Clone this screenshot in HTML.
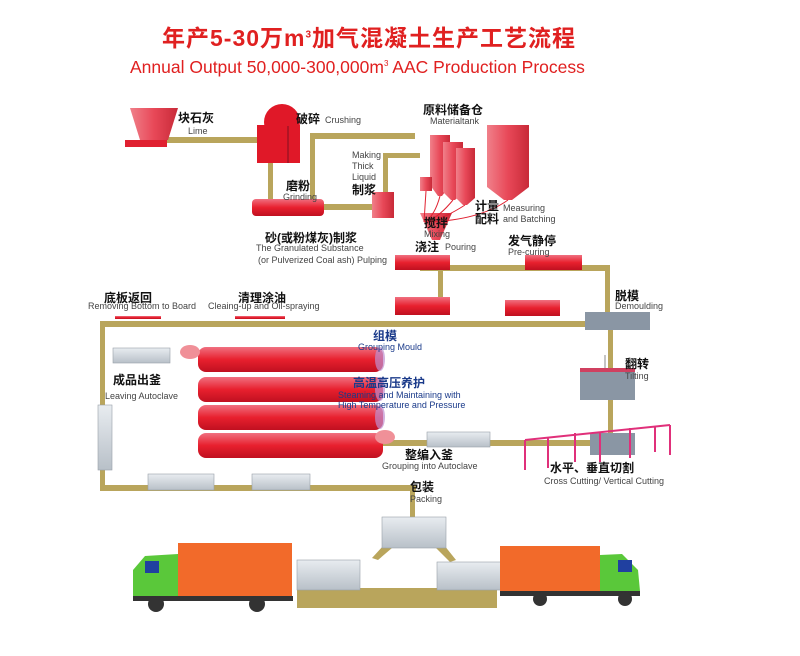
<!DOCTYPE html>
<html><head><meta charset="utf-8"><style>
body{margin:0;background:#fff}
#w{position:relative;width:800px;height:656px;overflow:hidden;font-family:"Liberation Sans","Noto Sans CJK SC",sans-serif}
.t{position:absolute;white-space:nowrap;line-height:1}
.c{font-weight:bold;font-size:12px;color:#111}
.e{font-size:9px;color:#444}
.b{color:#1a3a8a}
</style></head><body><div id="w">
<svg width="800" height="656" style="position:absolute;left:0;top:0">
<defs>
<linearGradient id="r" x1="0" y1="0" x2="0" y2="1"><stop offset="0" stop-color="#f07080"/><stop offset=".5" stop-color="#e8202e"/><stop offset="1" stop-color="#c01020"/></linearGradient>
<linearGradient id="rv" x1="0" y1="0" x2="1" y2="0"><stop offset="0" stop-color="#f0808a"/><stop offset=".5" stop-color="#e84858"/><stop offset="1" stop-color="#c82a38"/></linearGradient>
<linearGradient id="g" x1="0" y1="0" x2="0" y2="1"><stop offset="0" stop-color="#e8ecf0"/><stop offset="1" stop-color="#b8c0c8"/></linearGradient>
</defs>
<g fill="#b9a55c">
<rect x="165" y="137" width="100" height="6"/>
<rect x="268" y="160" width="5" height="42"/>
<rect x="310" y="133" width="105" height="6"/>
<rect x="310" y="133" width="5" height="75"/>
<rect x="320" y="204" width="55" height="6"/>
<rect x="383" y="153" width="37" height="5"/>
<rect x="383" y="153" width="5" height="57"/>
<rect x="420" y="265" width="190" height="6"/>
<rect x="438" y="268" width="5" height="32"/>
<rect x="605" y="265" width="5" height="55"/>
<rect x="100" y="321" width="490" height="6"/>
<rect x="100" y="321" width="5" height="170"/>
<rect x="100" y="485" width="316" height="6"/>
<rect x="608" y="330" width="5" height="115"/>
<rect x="380" y="440" width="232" height="6"/>
<rect x="410" y="488" width="5" height="30"/>
<rect x="297" y="588" width="200" height="20"/>
<polygon points="384,545 392,548 378,560 372,558"/>
<polygon points="444,545 436,548 450,562 456,560"/>
</g>
<polygon points="130,108 178,108 168,140 140,140" fill="url(#rv)"/>
<rect x="125" y="140" width="42" height="7" fill="#e02030"/>
<circle cx="282" cy="122" r="18" fill="#e01828"/>
<rect x="257" y="125" width="43" height="38" fill="#e01828"/>
<line x1="288" y1="126" x2="288" y2="163" stroke="#801020"/>
<rect x="252" y="199" width="72" height="17" rx="4" fill="url(#r)"/>
<rect x="372" y="192" width="22" height="26" fill="url(#rv)"/>
<g fill="url(#rv)">
<rect x="430" y="135" width="20" height="50"/><polygon points="430,185 450,185 442,196 438,196"/>
<rect x="443" y="142" width="20" height="50"/><polygon points="443,192 463,192 455,200 451,200"/>
<rect x="456" y="148" width="19" height="50"/><polygon points="456,198 475,198 467,205 463,205"/>
<rect x="487" y="125" width="42" height="62"/><polygon points="487,187 529,187 512,200 504,200"/>
<rect x="420" y="177" width="12" height="14"/>
<polygon points="420,213 452,213 440,240 432,240"/>
</g>
<g stroke="#e02030" fill="none" stroke-width="1">
<path d="M440,196 Q435,215 425,222"/><path d="M453,200 Q440,216 427,222"/><path d="M465,205 Q445,218 428,222"/><path d="M508,200 Q480,220 428,222"/><path d="M426,191 L424,222"/>
</g>
<g fill="url(#r)">
<rect x="395" y="255" width="55" height="15"/>
<rect x="525" y="255" width="57" height="15"/>
<rect x="395" y="297" width="55" height="18"/>
<rect x="505" y="300" width="55" height="16"/>
<rect x="115" y="316" width="46" height="3"/>
<rect x="235" y="316" width="50" height="3"/>
</g>
<g fill="url(#r)">
<rect x="198" y="347" width="185" height="25" rx="8"/>
<rect x="198" y="377" width="185" height="25" rx="8"/>
<rect x="198" y="405" width="185" height="25" rx="8"/>
<rect x="198" y="433" width="185" height="25" rx="8"/>
</g>
<g fill="#f09098"><ellipse cx="190" cy="352" rx="10" ry="7"/><ellipse cx="385" cy="437" rx="10" ry="7"/></g>
<g fill="#c090d0" opacity=".7"><ellipse cx="380" cy="359" rx="5" ry="12"/><ellipse cx="380" cy="389" rx="5" ry="12"/><ellipse cx="380" cy="417" rx="5" ry="12"/></g>
<g fill="url(#g)" stroke="#98a0a8" stroke-width=".6">
<rect x="113" y="348" width="57" height="15"/>
<rect x="98" y="405" width="14" height="65"/>
<rect x="148" y="474" width="66" height="16"/>
<rect x="252" y="474" width="58" height="16"/>
<rect x="427" y="432" width="63" height="15"/>
<rect x="382" y="517" width="64" height="31"/>
<rect x="297" y="560" width="63" height="30"/>
<rect x="437" y="562" width="64" height="28"/>
</g>
<g fill="#8a96a4">
<rect x="585" y="312" width="65" height="18"/>
<rect x="580" y="372" width="55" height="28"/>
<rect x="590" y="433" width="45" height="22"/>
</g>
<line x1="605" y1="355" x2="605" y2="372" stroke="#888"/>
<rect x="580" y="368" width="55" height="4" fill="#d04060"/>
<g stroke="#e0307a" stroke-width="2" fill="none">
<path d="M525,440 L670,425 M525,440 L525,470 M575,433 L575,462 M630,428 L630,458 M670,425 L670,455 M548,438 L548,468 M600,432 L600,462 M655,426 L655,452"/>
</g>
<rect x="178" y="543" width="114" height="53" fill="#f26a2a"/>
<path d="M133,596 L133,570 L145,556 L178,554 L178,596 Z" fill="#5ac83a"/>
<rect x="145" y="561" width="14" height="12" fill="#2040a0"/>
<rect x="133" y="596" width="160" height="5" fill="#333"/>
<circle cx="156" cy="604" r="8" fill="#333"/><circle cx="257" cy="604" r="8" fill="#333"/>
<rect x="500" y="546" width="100" height="45" fill="#f26a2a"/>
<path d="M600,591 L600,555 L622,554 L638,570 L640,591 Z" fill="#5ac83a"/>
<rect x="618" y="560" width="14" height="12" fill="#2040a0"/>
<rect x="500" y="591" width="140" height="5" fill="#333"/>
<circle cx="540" cy="599" r="7" fill="#333"/><circle cx="625" cy="599" r="7" fill="#333"/>
</svg>
<div class="t" style="left:162px;top:27px;font-size:23px;font-weight:bold;color:#e02020;letter-spacing:1px">年产5-30万m<sup style="font-size:10px">3</sup>加气混凝土生产工艺流程</div>
<div class="t" style="left:130px;top:59px;font-size:17.5px;color:#e02020">Annual Output 50,000-300,000m<sup style="font-size:8px">3</sup> AAC Production Process</div>
<div class="t c" style="left:178px;top:112px">块石灰</div><div class="t e" style="left:188px;top:127px">Lime</div>
<div class="t c" style="left:296px;top:113px">破碎</div><div class="t e" style="left:325px;top:116px">Crushing</div>
<div class="t c" style="left:286px;top:180px">磨粉</div><div class="t e" style="left:283px;top:193px">Grinding</div>
<div class="t e" style="left:352px;top:150px;line-height:11px">Making<br>Thick<br>Liquid</div>
<div class="t c" style="left:352px;top:184px">制浆</div>
<div class="t c" style="left:265px;top:232px">砂(或粉煤灰)制浆</div>
<div class="t e" style="left:256px;top:244px">The Granulated Substance</div>
<div class="t e" style="left:258px;top:256px">(or Pulverized Coal ash) Pulping</div>
<div class="t c" style="left:423px;top:104px">原料储备仓</div><div class="t e" style="left:430px;top:117px">Materialtank</div>
<div class="t c" style="left:475px;top:200px;line-height:13px">计量<br>配料</div>
<div class="t e" style="left:503px;top:203px;line-height:11px">Measuring<br>and Batching</div>
<div class="t c" style="left:424px;top:217px">搅拌</div><div class="t e" style="left:424px;top:230px">Mixing</div>
<div class="t c" style="left:415px;top:241px">浇注</div><div class="t e" style="left:445px;top:243px">Pouring</div>
<div class="t c" style="left:508px;top:235px">发气静停</div><div class="t e" style="left:508px;top:248px">Pre-curing</div>
<div class="t c" style="left:615px;top:290px">脱模</div><div class="t e" style="left:615px;top:302px">Demoulding</div>
<div class="t c" style="left:104px;top:292px">底板返回</div><div class="t e" style="left:88px;top:302px">Removing Bottom to Board</div>
<div class="t c" style="left:238px;top:292px">清理涂油</div><div class="t e" style="left:208px;top:302px">Cleaing-up and Oil-spraying</div>
<div class="t c b" style="left:373px;top:330px">组模</div><div class="t e b" style="left:358px;top:343px">Grouping Mould</div>
<div class="t c" style="left:113px;top:374px">成品出釜</div><div class="t e" style="left:105px;top:392px">Leaving Autoclave</div>
<div class="t c b" style="left:353px;top:377px">高温高压养护</div>
<div class="t e b" style="left:338px;top:390px;line-height:10px">Steaming and Maintaining with<br>High Temperature and Pressure</div>
<div class="t c" style="left:625px;top:358px">翻转</div><div class="t e" style="left:625px;top:372px">Tilting</div>
<div class="t c" style="left:405px;top:449px">整编入釜</div><div class="t e" style="left:382px;top:462px">Grouping into Autoclave</div>
<div class="t c" style="left:550px;top:462px">水平、垂直切割</div><div class="t e" style="left:544px;top:477px">Cross Cutting/ Vertical Cutting</div>
<div class="t c" style="left:410px;top:481px">包装</div><div class="t e" style="left:410px;top:495px">Packing</div>
</div></body></html>
